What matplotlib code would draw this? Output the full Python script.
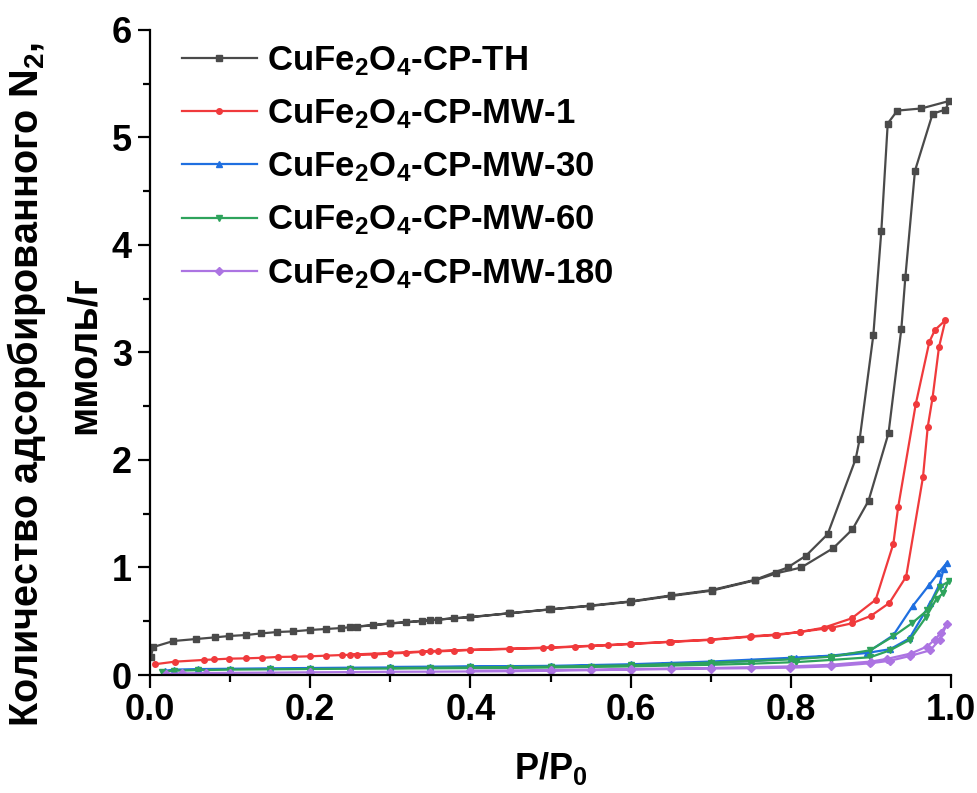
import matplotlib
matplotlib.use("Agg")
import matplotlib.pyplot as plt
from matplotlib.ticker import MultipleLocator

plt.rcParams['font.family'] = ['Liberation Sans', 'DejaVu Sans']
plt.rcParams['font.weight'] = 'bold'
plt.rcParams['mathtext.fontset'] = 'custom'
plt.rcParams['mathtext.rm'] = 'Liberation Sans:bold'
plt.rcParams['mathtext.bf'] = 'Liberation Sans:bold'
plt.rcParams['mathtext.default'] = 'bf'

# CuFe2O4-CP-TH
th_ads_x = [0.001, 0.004, 0.029, 0.058, 0.081, 0.099, 0.12, 0.139, 0.159, 0.179, 0.2, 0.22, 0.239, 0.258,
            0.279, 0.30, 0.32, 0.339, 0.36, 0.379, 0.40, 0.448, 0.498, 0.549, 0.599, 0.651, 0.701, 0.755,
            0.782, 0.813, 0.853, 0.877, 0.897, 0.922, 0.938, 0.943, 0.955, 0.977, 0.993, 0.998]
th_ads_y = [0.17, 0.26, 0.316, 0.335, 0.35, 0.363, 0.372, 0.387, 0.40, 0.406, 0.419, 0.428, 0.437, 0.45,
            0.462, 0.48, 0.49, 0.502, 0.515, 0.527, 0.537, 0.574, 0.61, 0.642, 0.68, 0.735, 0.784, 0.88,
            0.946, 1.00, 1.18, 1.355, 1.62, 2.25, 3.22, 3.70, 4.69, 5.22, 5.26, 5.34]
th_des_x = [0.963, 0.933, 0.921, 0.913, 0.903, 0.886, 0.881, 0.846, 0.819, 0.796, 0.755, 0.701, 0.65,
            0.60, 0.549, 0.50, 0.45, 0.40, 0.35, 0.30, 0.25]
th_des_y = [5.27, 5.25, 5.13, 4.13, 3.16, 2.195, 2.01, 1.31, 1.11, 1.00, 0.885, 0.79, 0.74,
            0.685, 0.645, 0.61, 0.575, 0.54, 0.51, 0.48, 0.445]

# CuFe2O4-CP-MW-1
mw1_ads_x = [0.006, 0.031, 0.067, 0.08, 0.099, 0.12, 0.14, 0.16, 0.18, 0.2, 0.22, 0.24, 0.259, 0.28, 0.30,
             0.32, 0.339, 0.36, 0.38, 0.40, 0.448, 0.491, 0.531, 0.572, 0.599, 0.648, 0.699, 0.749, 0.783,
             0.811, 0.851, 0.876, 0.900, 0.923, 0.944, 0.965, 0.971, 0.977, 0.985, 0.993]
mw1_ads_y = [0.10, 0.124, 0.14, 0.145, 0.152, 0.155, 0.16, 0.168, 0.17, 0.174, 0.18, 0.186, 0.188, 0.19, 0.2,
             0.206, 0.215, 0.22, 0.226, 0.232, 0.242, 0.251, 0.263, 0.276, 0.288, 0.307, 0.326, 0.356, 0.372,
             0.40, 0.44, 0.48, 0.55, 0.67, 0.915, 1.84, 2.31, 2.58, 3.05, 3.30]
mw1_des_x = [0.980, 0.973, 0.956, 0.934, 0.928, 0.906, 0.876, 0.841, 0.811, 0.78, 0.75, 0.70, 0.65,
             0.60, 0.55, 0.50, 0.45, 0.40, 0.35, 0.30, 0.25]
mw1_des_y = [3.21, 3.10, 2.52, 1.56, 1.22, 0.70, 0.527, 0.44, 0.40, 0.375, 0.36, 0.33, 0.31,
             0.29, 0.272, 0.256, 0.245, 0.235, 0.222, 0.205, 0.19]

# CuFe2O4-CP-MW-30
mw30_ads_x = [0.019, 0.03, 0.06, 0.1, 0.15, 0.2, 0.25, 0.3, 0.35, 0.4, 0.45, 0.5, 0.55, 0.6, 0.65, 0.7,
              0.75, 0.807, 0.85, 0.895, 0.924, 0.948, 0.974, 0.986, 0.991, 0.995]
mw30_ads_y = [0.04, 0.05, 0.055, 0.058, 0.062, 0.065, 0.068, 0.07, 0.072, 0.075, 0.077, 0.08, 0.085, 0.09,
              0.105, 0.115, 0.13, 0.155, 0.175, 0.205, 0.24, 0.34, 0.667, 0.85, 0.99, 1.045]
mw30_des_x = [0.984, 0.973, 0.952, 0.928, 0.897, 0.85, 0.8, 0.7, 0.6, 0.5, 0.4, 0.3]
mw30_des_y = [0.946, 0.84, 0.64, 0.37, 0.217, 0.18, 0.16, 0.125, 0.1, 0.085, 0.08, 0.075]

# CuFe2O4-CP-MW-60
mw60_ads_x = [0.015, 0.03, 0.06, 0.1, 0.15, 0.2, 0.25, 0.3, 0.35, 0.4, 0.45, 0.5, 0.55, 0.6, 0.65, 0.7,
              0.75, 0.807, 0.85, 0.899, 0.924, 0.949, 0.969, 0.982, 0.990, 0.997]
mw60_ads_y = [0.03, 0.04, 0.045, 0.05, 0.053, 0.056, 0.058, 0.06, 0.062, 0.064, 0.066, 0.07, 0.075, 0.08,
              0.088, 0.095, 0.105, 0.12, 0.14, 0.165, 0.23, 0.33, 0.54, 0.71, 0.76, 0.87]
mw60_des_x = [0.986, 0.970, 0.951, 0.928, 0.899, 0.85, 0.8, 0.7, 0.6, 0.5, 0.4, 0.3]
mw60_des_y = [0.82, 0.60, 0.48, 0.36, 0.23, 0.17, 0.145, 0.115, 0.09, 0.078, 0.07, 0.065]

# CuFe2O4-CP-MW-180
mw180_ads_x = [0.02, 0.04, 0.07, 0.1, 0.15, 0.2, 0.25, 0.3, 0.35, 0.4, 0.45, 0.5, 0.55, 0.6, 0.65, 0.7,
               0.75, 0.799, 0.85, 0.899, 0.924, 0.949, 0.974, 0.986, 0.995]
mw180_ads_y = [0.01, 0.015, 0.018, 0.02, 0.022, 0.025, 0.027, 0.03, 0.031, 0.033, 0.035, 0.04, 0.045, 0.05,
               0.055, 0.06, 0.063, 0.068, 0.08, 0.109, 0.133, 0.177, 0.23, 0.33, 0.475]
mw180_des_x = [0.987, 0.980, 0.970, 0.95, 0.92, 0.9, 0.85, 0.8, 0.7, 0.6, 0.5, 0.4]
mw180_des_y = [0.39, 0.33, 0.265, 0.20, 0.15, 0.125, 0.095, 0.08, 0.065, 0.055, 0.045, 0.04]

labels = [r'CuFe$_2$O$_4$-CP-TH', r'CuFe$_2$O$_4$-CP-MW-1', r'CuFe$_2$O$_4$-CP-MW-30',
          r'CuFe$_2$O$_4$-CP-MW-60', r'CuFe$_2$O$_4$-CP-MW-180']
colors = ['#4a4a4a', '#f03a3c', '#1f6fe0', '#2ea35c', '#ac74e2']
markers = ['s', 'o', '^', 'v', 'D']

series = [
    (th_ads_x + th_des_x, th_ads_y + th_des_y),
    (mw1_ads_x + mw1_des_x, mw1_ads_y + mw1_des_y),
    (mw30_ads_x + mw30_des_x, mw30_ads_y + mw30_des_y),
    (mw60_ads_x + mw60_des_x, mw60_ads_y + mw60_des_y),
    (mw180_ads_x + mw180_des_x, mw180_ads_y + mw180_des_y),
]

fig = plt.figure(figsize=(9.78, 7.93), dpi=100)
ax = fig.add_axes([0.1534, 0.1488, 0.8190, 0.8134])

for (xs, ys), lab, c, m in zip(series, labels, colors, markers):
    ax.plot(xs, ys, color=c, marker=m, markersize=4, linewidth=1.6, label=lab)

ax.set_xlim(0, 1.0)
ax.set_ylim(0, 6)
ax.xaxis.set_major_locator(MultipleLocator(0.2))
ax.xaxis.set_minor_locator(MultipleLocator(0.1))
ax.yaxis.set_major_locator(MultipleLocator(1))
ax.yaxis.set_minor_locator(MultipleLocator(0.5))
ax.xaxis.set_major_formatter(plt.FuncFormatter(lambda v, p: f"{v:.1f}"))

for s in ['top', 'right']:
    ax.spines[s].set_visible(False)
for s in ['left', 'bottom']:
    ax.spines[s].set_linewidth(1.6)
ax.tick_params(which='major', direction='out', length=9, width=1.6, labelsize=26, pad=4)
ax.tick_params(which='minor', direction='out', length=5, width=1.6)

ax.set_xlabel(r'P/P$_0$', fontsize=26, fontweight='bold', labelpad=16)
# y label: two lines, the second one sits a bit higher than the first
ax.set_ylabel('Количество адсорбированного N$_2$,', fontsize=28.5, fontweight='bold')
ax.yaxis.set_label_coords(-0.127, 0.45)
ax.text(-0.0587, 0.496, 'ммоль/г', transform=ax.transAxes, rotation=90, fontsize=28.5,
        fontweight='bold', ha='right', va='center')

ax.legend(loc='upper left', frameon=False, fontsize=25, handlelength=2.15, handletextpad=0.3,
          labelspacing=0.56, borderaxespad=0.2, bbox_to_anchor=(0.014, 1.01))

fig.savefig('out.png', dpi=100)
